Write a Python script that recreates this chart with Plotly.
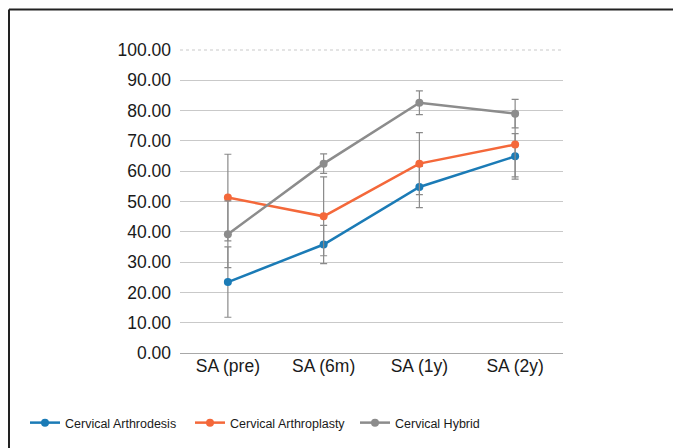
import plotly.graph_objects as go

categories = ["SA (pre)", "SA (6m)", "SA (1y)", "SA (2y)"]
arthrodesis = [23.4, 35.8, 54.8, 64.9]
arthrodesis_err = [11.6, 6.3, 6.8, 7.5]
arthroplasty = [51.3, 45.1, 62.5, 68.8]
arthroplasty_err = [14.3, 13.0, 10.2, 10.7]
hybrid = [39.2, 62.5, 82.6, 79.0]
hybrid_err = [11.0, 3.2, 3.9, 4.7]
y_ticks = [0, 10, 20, 30, 40, 50, 60, 70, 80, 90, 100]

series = [
    ("Cervical Arthrodesis", arthrodesis, arthrodesis_err, "#1b7bb6"),
    ("Cervical Arthroplasty", arthroplasty, arthroplasty_err, "#f4683a"),
    ("Cervical Hybrid", hybrid, hybrid_err, "#8c8c8c"),
]

fig = go.Figure()
for name, vals, errs, color in series:
    fig.add_trace(go.Scatter(
        x=categories, y=vals, name=name, mode="lines+markers",
        line=dict(color=color, width=2.5),
        marker=dict(color=color, size=8),
        error_y=dict(type="data", array=errs, visible=True,
                     color="#8a8a8a", thickness=1.2, width=3.5),
    ))

# page body has an 8px margin, so figure coords = screen coords - 8
OFF = 8
W, H = 681 - OFF, 448 - OFF
L, T = 180 - OFF, 50 - OFF
pw, ph = 383, 303
R, B = W - L - pw, H - T - ph

def px(x):  # screen px -> paper x
    return (x - OFF - L) / pw

def py(y):  # screen px -> paper y
    return (T + ph - (y - OFF)) / ph

fig.update_layout(
    width=W, height=H,
    margin=dict(l=L, r=R, t=T, b=B, autoexpand=False),
    paper_bgcolor="white", plot_bgcolor="white",
    font=dict(family="Liberation Sans, Arial, sans-serif", color="#1a1a1a"),
    showlegend=True,
    legend=dict(orientation="h", x=px(25), y=py(408), xanchor="left", yanchor="top",
                font=dict(size=12.5),
                entrywidth=120, entrywidthmode="pixels",
                bgcolor="rgba(0,0,0,0)", itemwidth=30),
    xaxis=dict(type="category", range=[-0.5, 3.5], showgrid=False,
               showline=False, ticks="", tickfont=dict(size=17.5), zeroline=False),
    yaxis=dict(range=[0, 100], tickvals=y_ticks, tickformat=".2f",
               showgrid=True, gridcolor="#c9c9c9", gridwidth=1,
               zeroline=True, zerolinecolor="#a8a8a8", zerolinewidth=1.2,
               showline=False, ticks="", tickfont=dict(size=17.5),
               ticklabelstandoff=8),
    shapes=[
        dict(type="line", xref="paper", yref="paper", x0=0, x1=1, y0=1, y1=1,
             line=dict(color="white", width=2), layer="below"),
        dict(type="line", xref="paper", yref="paper", x0=0, x1=1, y0=1, y1=1,
             line=dict(color="#c9c9c9", width=1, dash="dot"), layer="below"),
        dict(type="line", xref="paper", yref="paper", x0=px(9), x1=px(700),
             y0=py(9.5), y1=py(9.5), line=dict(color="#222222", width=2)),
        dict(type="line", xref="paper", yref="paper", x0=px(9), x1=px(9),
             y0=py(9.5), y1=py(470), line=dict(color="#222222", width=2)),
    ],
)

fig.write_html("out.html")
